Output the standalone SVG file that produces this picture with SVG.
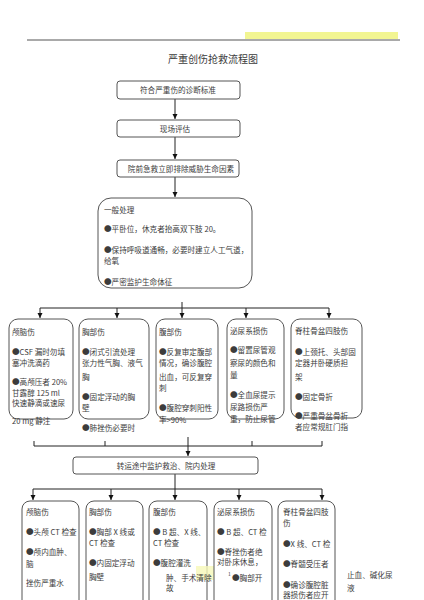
<svg xmlns="http://www.w3.org/2000/svg" width="424" height="600" viewBox="0 0 424 600">
<style>
.t{font-family:"Noto Sans CJK SC","Noto Sans",sans-serif;font-size:7.6px;fill:#3c3c3c}
.c{text-anchor:middle}
.b{fill:#fff;stroke:#555;stroke-width:1}
.l{stroke:#222;stroke-width:1;fill:none}
</style>
<defs>
<marker id="ah" markerWidth="6" markerHeight="6" refX="5" refY="3" orient="auto" markerUnits="userSpaceOnUse">
<path d="M0,0.5 L5,3 L0,5.5 Z" fill="#111"/>
</marker>
</defs>
<rect width="424" height="600" fill="#fff"/>
<g id="header">
<rect x="245" y="32" width="153" height="7" fill="#f2f592"/>
<line x1="27" y1="40" x2="400" y2="40" stroke="#555" stroke-width="1"/>
<text class="t c" x="213" y="63" style="font-size:10px">严重创伤抢救流程图</text>
</g>
<g id="connectors">
<line class="l" x1="175" y1="99" x2="175" y2="119" marker-end="url(#ah)"/>
<line class="l" x1="175" y1="137" x2="175" y2="159" marker-end="url(#ah)"/>
<line class="l" x1="175" y1="177" x2="175" y2="197" marker-end="url(#ah)"/>
<line class="l" x1="182" y1="302" x2="182" y2="308"/>
<line class="l" x1="40" y1="308" x2="329" y2="308"/>
<line class="l" x1="40" y1="308" x2="40" y2="318" marker-end="url(#ah)"/>
<line class="l" x1="117" y1="308" x2="117" y2="318" marker-end="url(#ah)"/>
<line class="l" x1="182" y1="308" x2="182" y2="318" marker-end="url(#ah)"/>
<line class="l" x1="246" y1="308" x2="246" y2="318" marker-end="url(#ah)"/>
<line class="l" x1="329" y1="308" x2="329" y2="318" marker-end="url(#ah)"/>
<line class="l" x1="34" y1="446" x2="322" y2="446"/>
<line class="l" x1="34" y1="441" x2="34" y2="446"/>
<line class="l" x1="105" y1="441" x2="105" y2="446"/>
<line class="l" x1="252" y1="441" x2="252" y2="446"/>
<line class="l" x1="322" y1="441" x2="322" y2="446"/>
<line class="l" x1="188" y1="437" x2="188" y2="456" marker-end="url(#ah)"/>
<line class="l" x1="175" y1="474" x2="175" y2="489"/>
<line class="l" x1="33" y1="489" x2="322" y2="489"/>
<line class="l" x1="33" y1="489" x2="33" y2="500" marker-end="url(#ah)"/>
<line class="l" x1="111" y1="489" x2="111" y2="500" marker-end="url(#ah)"/>
<line class="l" x1="175" y1="489" x2="175" y2="500" marker-end="url(#ah)"/>
<line class="l" x1="239" y1="489" x2="239" y2="500" marker-end="url(#ah)"/>
<line class="l" x1="322" y1="489" x2="322" y2="500" marker-end="url(#ah)"/>
</g>
<g id="n1"><rect class="b" x="117" y="81" width="123" height="18" rx="3"/><text class="t c" x="178" y="93">符合严重伤的诊断标准</text></g>
<g id="n2"><rect class="b" x="117" y="120" width="123" height="17" rx="3"/><text class="t c" x="175" y="131.5">现场评估</text></g>
<g id="n3"><rect class="b" x="117" y="160" width="122" height="17" rx="3"/><text class="t c" x="181" y="171.5">院前急救立即排除威胁生命因素</text></g>
<g id="n4"><rect class="b" x="98" y="198" width="154" height="90" rx="13"/>
<text class="t" x="104" y="213">一般处理</text>
<text class="t" x="104" y="232">●平卧位，休克者抬高双下肢 20。</text>
<text class="t" x="104" y="253">●保持呼吸道通畅，必要时建立人工气道，</text>
<text class="t" x="104" y="264">给氧</text>
<text class="t" x="104" y="285">●严密监护生命体征</text>
</g>
<g id="r1a"><rect class="b" x="9" y="319" width="64" height="100" rx="9"/>
<text class="t" x="12" y="335">颅脑伤</text>
<text class="t" x="12" y="355">●CSF 漏时勿填</text>
<text class="t" x="12" y="366">塞冲洗滴药</text>
<text class="t" x="12" y="385">●高颅压者 20%</text>
<text class="t" x="12" y="396">甘露醇 125 ml</text>
<text class="t" x="12" y="406">快速静滴或速尿</text>
<text class="t" x="12" y="424">20 mg 静注</text>
</g>
<g id="r1b"><rect class="b" x="79" y="319" width="70" height="100" rx="9"/>
<text class="t" x="82" y="335">胸部伤</text>
<text class="t" x="82" y="355">●闭式引流处理</text>
<text class="t" x="82" y="366">张力性气胸、液气</text>
<text class="t" x="82" y="380">胸</text>
<text class="t" x="82" y="400">●固定浮动的胸</text>
<text class="t" x="82" y="411">壁</text>
<text class="t" x="82" y="431">●肺挫伤必要时</text>
</g>
<g id="r1c"><rect class="b" x="156" y="319" width="62" height="100" rx="9"/>
<text class="t" x="159" y="335">腹部伤</text>
<text class="t" x="159" y="355">●反复审定腹部</text>
<text class="t" x="159" y="366">情况，确诊腹腔</text>
<text class="t" x="159" y="380">出血，可反复穿</text>
<text class="t" x="159" y="391">刺</text>
<text class="t" x="159" y="411">●腹腔穿刺阳性</text>
<text class="t" x="159" y="423">率&gt;90%</text>
</g>
<g id="r1d"><rect class="b" x="227" y="319" width="57" height="100" rx="9"/>
<text class="t" x="230" y="334">泌尿系损伤</text>
<text class="t" x="230" y="353">●留置尿管观</text>
<text class="t" x="230" y="366">察尿的颜色和</text>
<text class="t" x="230" y="378">量</text>
<text class="t" x="230" y="398">●全血尿提示</text>
<text class="t" x="230" y="410">尿路损伤严</text>
<text class="t" x="230" y="422">重，防止尿管</text>
</g>
<g id="r1e"><rect class="b" x="291" y="319" width="71" height="99" rx="9"/>
<text class="t" x="295" y="334">脊柱骨盆四肢伤</text>
<text class="t" x="295" y="355">●上颈托、头部固</text>
<text class="t" x="295" y="366">定器并卧硬质担</text>
<text class="t" x="295" y="380">架</text>
<text class="t" x="295" y="400">●固定骨折</text>
<text class="t" x="295" y="419">●严重骨盆骨折</text>
<text class="t" x="295" y="430">者应常规肛门指</text>
</g>
<g id="n5"><rect class="b" x="73" y="457" width="185" height="17" rx="3"/><text class="t c" x="166" y="468.5">转运途中监护救治、院内处理</text></g>
<g id="r2a"><rect class="b" x="22" y="501" width="57" height="120" rx="8"/>
<text class="t" x="26" y="515">颅脑伤</text>
<text class="t" x="26" y="535">●头颅 CT 检查</text>
<text class="t" x="26" y="555">●颅内血肿、</text>
<text class="t" x="26" y="567">脑</text>
<text class="t" x="26" y="586">挫伤严重水</text>
</g>
<g id="r2b"><rect class="b" x="86" y="501" width="57" height="120" rx="8"/>
<text class="t" x="89" y="515">胸部伤</text>
<text class="t" x="89" y="535">●胸部 X 线或</text>
<text class="t" x="89" y="546">CT 检查</text>
<text class="t" x="89" y="566">●内固定浮动</text>
<text class="t" x="89" y="580">胸壁</text>
</g>
<g id="r2c"><rect class="b" x="149" y="501" width="58" height="120" rx="8"/>
<rect x="196" y="566" width="31" height="14" fill="#f6f8b8" opacity="0.8"/>
<text class="t" x="153" y="515">腹部伤</text>
<text class="t" x="153" y="535">● B 超、X 线、</text>
<text class="t" x="153" y="546">CT 检查</text>
<text class="t" x="153" y="566">●腹腔灌洗</text>
<text class="t" x="166" y="581">肿、手术清除</text>
<text class="t" x="166" y="591">故</text>
</g>
<g id="r2d"><rect class="b" x="214" y="501" width="58" height="120" rx="8"/>
<text class="t" x="217" y="515">泌尿系损伤</text>
<text class="t" x="217" y="535">● B 超、CT 检</text>
<text class="t" x="217" y="555">●脊挫伤者绝</text>
<text class="t" x="217" y="565">对卧床休息，</text>
<text class="t" x="228" y="576" style="font-size:5px">1</text>
<text class="t" x="232" y="581">●胸部开</text>
</g>
<g id="r2e"><rect class="b" x="278" y="501" width="57" height="120" rx="8"/>
<text class="t" x="283" y="515">脊柱骨盆四肢</text>
<text class="t" x="283" y="526">伤</text>
<text class="t" x="283" y="547">●X 线、CT 检</text>
<text class="t" x="283" y="567">●脊髓受压者</text>
<text class="t" x="283" y="588">●确诊腹腔脏</text>
<text class="t" x="283" y="598">器损伤者应开</text>
</g>
<g id="outside">
<text class="t" x="347" y="578">止血、碱化尿</text>
<text class="t" x="347" y="591">液</text>
</g>
</svg>
